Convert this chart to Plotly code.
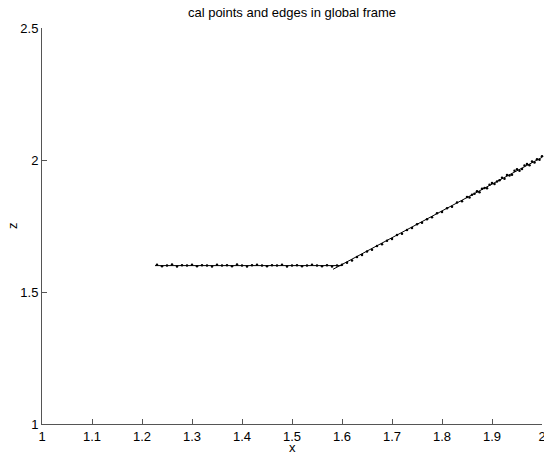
import plotly.graph_objects as go

# calibration points
flat_x = [1.23, 1.24, 1.25, 1.26, 1.27, 1.28, 1.29, 1.30, 1.31, 1.32, 1.33, 1.34, 1.35,
          1.36, 1.37, 1.38, 1.39, 1.40, 1.41, 1.42, 1.43, 1.44, 1.45, 1.46, 1.47, 1.48,
          1.49, 1.50, 1.51, 1.52, 1.53, 1.54, 1.55, 1.56, 1.57, 1.58, 1.59, 1.60]
flat_z = [1.603, 1.598, 1.600, 1.604, 1.597, 1.601, 1.600, 1.603, 1.598, 1.601, 1.600, 1.597,
          1.603, 1.600, 1.601, 1.598, 1.604, 1.600, 1.597, 1.601, 1.603, 1.600, 1.598, 1.601,
          1.600, 1.603, 1.597, 1.600, 1.601, 1.598, 1.600, 1.603, 1.600, 1.598, 1.601, 1.597,
          1.600, 1.603]

slope_x = [1.61, 1.62, 1.63, 1.64, 1.65, 1.66, 1.67, 1.68, 1.69, 1.70, 1.71, 1.72, 1.73,
           1.74, 1.75, 1.76, 1.77, 1.78, 1.79, 1.80, 1.81, 1.82, 1.83, 1.84, 1.85, 1.855,
           1.86, 1.865, 1.87, 1.875, 1.88, 1.885, 1.89, 1.895, 1.90, 1.905, 1.91, 1.915,
           1.92, 1.925, 1.93, 1.935, 1.94, 1.945, 1.95, 1.955, 1.96, 1.965, 1.97, 1.975,
           1.98, 1.985, 1.99, 1.995, 2.00]
slope_z = [1.611, 1.619, 1.633, 1.640, 1.653, 1.660, 1.674, 1.681, 1.694, 1.701, 1.716, 1.721,
           1.735, 1.742, 1.757, 1.762, 1.776, 1.783, 1.798, 1.803, 1.817, 1.823, 1.839, 1.844,
           1.860, 1.858, 1.868, 1.872, 1.882, 1.878, 1.891, 1.894, 1.893, 1.906, 1.913, 1.909,
           1.919, 1.923, 1.933, 1.929, 1.943, 1.941, 1.944, 1.959, 1.965, 1.959, 1.966, 1.979,
           1.985, 1.980, 1.994, 1.991, 2.003, 2.001, 2.014]

# fitted edges
edge_flat_x = [1.226, 1.600]
edge_flat_z = [1.600, 1.600]
edge_slope_x = [1.582, 2.000]
edge_slope_z = [1.586, 2.010]

fig = go.Figure()
fig.add_trace(go.Scatter(x=edge_flat_x, y=edge_flat_z, mode="lines",
                         line=dict(color="black", width=1), showlegend=False))
fig.add_trace(go.Scatter(x=edge_slope_x, y=edge_slope_z, mode="lines",
                         line=dict(color="black", width=1), showlegend=False))
fig.add_trace(go.Scatter(x=flat_x + slope_x, y=flat_z + slope_z, mode="markers",
                         marker=dict(color="black", size=2.5), showlegend=False, cliponaxis=False))

FS = 13
font = dict(family="Liberation Sans, Arial, sans-serif", size=FS, color="black")
fig.update_layout(
    width=544, height=455,
    margin=dict(l=42, r=2, t=28, b=31, autoexpand=False),
    paper_bgcolor="white", plot_bgcolor="white",
    font=font,
    title=dict(text="cal points and edges in global frame", x=0.5, xanchor="center",
               xref="paper", y=1 - 12 / 455, yanchor="middle", font=dict(size=FS)),
    xaxis=dict(range=[1, 2], tickvals=[1, 1.1, 1.2, 1.3, 1.4, 1.5, 1.6, 1.7, 1.8, 1.9, 2],
               ticktext=["1", "1.1", "1.2", "1.3", "1.4", "1.5", "1.6", "1.7", "1.8", "1.9", "2"],
               showgrid=False, zeroline=False, showline=True, linecolor="#555", linewidth=1,
               ticks="inside", ticklen=5, tickcolor="#555", automargin=False,
               ticklabeloverflow="allow", fixedrange=True),
    yaxis=dict(range=[1, 2.5], tickvals=[1, 1.5, 2, 2.5], ticktext=["1", "1.5", "2", "2.5"],
               showgrid=False, zeroline=False, showline=True, linecolor="#555", linewidth=1,
               ticks="inside", ticklen=5, tickcolor="#555", automargin=False,
               ticklabeloverflow="allow", fixedrange=True),
    annotations=[
        dict(text="x", xref="paper", yref="paper", x=0.5, y=-23 / 396, xanchor="center",
             yanchor="middle", showarrow=False, font=dict(size=FS)),
        dict(text="z", xref="paper", yref="paper", x=-30 / 500, y=0.5, xanchor="center",
             yanchor="middle", showarrow=False, textangle=-90, font=dict(size=FS)),
    ],
)
fig.write_html("out.html", config={"displayModeBar": False},
               post_script="document.body.style.margin='0';document.body.style.overflow='hidden';")
